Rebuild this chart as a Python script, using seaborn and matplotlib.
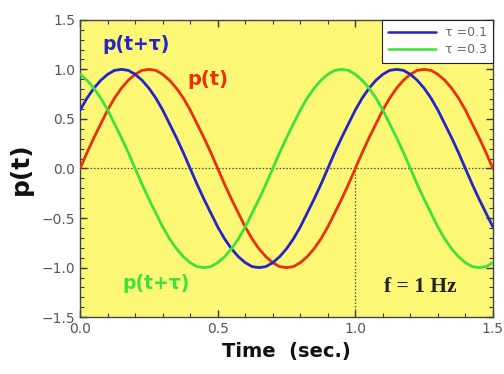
import numpy as np
import pandas as pd
import matplotlib
matplotlib.use("Agg")
import matplotlib.pyplot as plt
import seaborn as sns
from matplotlib.ticker import MultipleLocator
from matplotlib.lines import Line2D

time = np.linspace(0.0, 1.5, 61)
p_t = [0, .16, .31, .45, .59, .71, .81, .89, .95, .99, 1, .99, .95, .89, .81, .71, .59, .45, .31, .16,
       0, -.16, -.31, -.45, -.59, -.71, -.81, -.89, -.95, -.99, -1, -.99, -.95, -.89, -.81, -.71, -.59, -.45, -.31, -.16,
       0, .16, .31, .45, .59, .71, .81, .89, .95, .99, 1, .99, .95, .89, .81, .71, .59, .45, .31, .16, 0]
p_tau01 = [.59, .71, .81, .89, .95, .99, 1,
           .99, .95, .89, .81, .71, .59, .45, .31, .16, 0,
           -.16, -.31, -.45, -.59, -.71, -.81, -.89, -.95, -.99, -1,
           -.99, -.95, -.89, -.81, -.71, -.59, -.45, -.31, -.16, 0,
           .16, .31, .45, .59, .71, .81, .89, .95, .99, 1,
           .99, .95, .89, .81, .71, .59, .45, .31, .16, 0,
           -.16, -.31, -.45, -.59]
p_tau03 = [.95, .89, .81, .71, .59, .45, .31, .16, 0,
           -.16, -.31, -.45, -.59, -.71, -.81, -.89, -.95, -.99, -1,
           -.99, -.95, -.89, -.81, -.71, -.59, -.45, -.31, -.16, 0,
           .16, .31, .45, .59, .71, .81, .89, .95, .99, 1,
           .99, .95, .89, .81, .71, .59, .45, .31, .16, 0,
           -.16, -.31, -.45, -.59, -.71, -.81, -.89, -.95, -.99, -1,
           -.99, -.95]
series_names = ["p(t)", "τ =0.1", "τ =0.3"]
x_ticks = [0.0, 0.5, 1.0, 1.5]
y_ticks = [-1.5, -1.0, -0.5, 0.0, 0.5, 1.0, 1.5]

df = pd.DataFrame({
    "time": np.concatenate([time, time, time]),
    "value": np.concatenate([p_t, p_tau01, p_tau03]),
    "series": np.repeat(series_names, len(time)),
})

sns.set_style("ticks")
plt.rcParams["font.family"] = ["DejaVu Sans"]

fig = plt.figure(figsize=(5.04, 3.74), dpi=100)
ax = fig.add_axes([0.159, 0.152, 0.819, 0.795])
ax.set_facecolor("#fcf876")

palette = {"p(t)": "#e8300c", "τ =0.1": "#2424c8", "τ =0.3": "#3ee03e"}
sns.lineplot(data=df, x="time", y="value", hue="series", palette=palette,
             linewidth=2.0, ax=ax, legend=False, zorder=3)

# reference dotted lines
ax.axhline(0, color="#4a4a2a", linestyle=(0, (1.2, 1.5)), linewidth=0.9, zorder=2)
ax.plot([1.0, 1.0], [-1.5, 0.0], color="#4a4a2a", linestyle=(0, (1.2, 1.5)), linewidth=0.9, zorder=2)

ax.set_xlim(0, 1.5)
ax.set_ylim(-1.5, 1.5)
ax.set_xticks(x_ticks)
ax.set_yticks(y_ticks)
ax.set_xticklabels([f"{v:.1f}" for v in x_ticks])
ax.set_yticklabels([f"{v:.1f}".replace("-", "\u2212") for v in y_ticks])
ax.xaxis.set_minor_locator(MultipleLocator(0.1))
ax.yaxis.set_minor_locator(MultipleLocator(0.1))
ax.tick_params(which="both", direction="in", top=True, right=True, color="#333333",
               labelcolor="#555555", labelsize=10)
ax.tick_params(which="major", length=5, width=1.0)
ax.tick_params(which="minor", length=3, width=0.8)
for s in ax.spines.values():
    s.set_color("#444444")
    s.set_linewidth(1.0)

ax.set_xlabel("Time  (sec.)", fontsize=14, fontweight="bold", labelpad=4, color="#111111")
ax.set_ylabel("p(t)", fontsize=18, fontweight="bold", labelpad=6, color="#111111")

# legend
handles = [Line2D([0], [0], color=palette["τ =0.1"], lw=1.8),
           Line2D([0], [0], color=palette["τ =0.3"], lw=1.8)]
leg = ax.legend(handles, series_names[1:], loc="upper right", fontsize=9,
                frameon=True, fancybox=False, borderaxespad=0.0, handlelength=3.8,
                labelspacing=0.35, borderpad=0.5, handletextpad=0.7)
leg.get_frame().set_edgecolor("#222222")
leg.get_frame().set_linewidth(0.8)
leg.get_frame().set_facecolor("white")
leg.get_frame().set_alpha(1)
for t in leg.get_texts():
    t.set_color("#666666")

# annotations
ax.text(0.08, 1.25, "p(t+τ)", color=palette["τ =0.1"], fontsize=13.5, fontweight="bold", va="center", ha="left")
ax.text(0.39, 0.9, "p(t)", color=palette["p(t)"], fontsize=14, fontweight="bold", va="center", ha="left")
ax.text(0.155, -1.16, "p(t+τ)", color=palette["τ =0.3"], fontsize=13.5, fontweight="bold", va="center", ha="left")
ax.text(1.105, -1.2, "f = 1 Hz", color="#222222", fontsize=15.5, fontweight="bold",
        family=["Liberation Serif", "DejaVu Serif"], va="center", ha="left")

fig.savefig("out.png", dpi=100, facecolor="white")
